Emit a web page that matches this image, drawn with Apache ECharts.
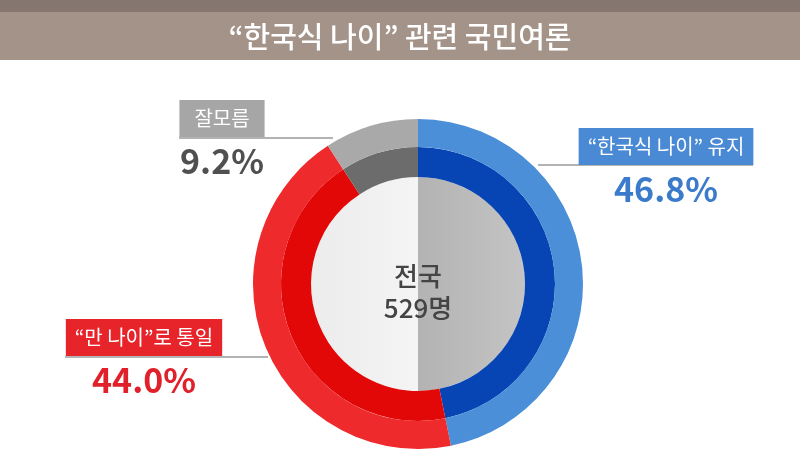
<!DOCTYPE html>
<html><head><meta charset="utf-8">
<script src="https://cdn.jsdelivr.net/npm/echarts@6/dist/echarts.min.js"></script>
<style>html,body{margin:0;padding:0;background:#fff}#c{width:800px;height:450px}</style>
</head><body><div id="c"></div>
<script>
const titleText = '“한국식 나이” 관련 국민여론';
const categories = ['“한국식 나이” 유지', '“만 나이”로 통일', '잘모름'];
const values = [46.8, 44.0, 9.2];
const centerLines = ['전국', '529명'];
const outerColors = ['#4a8fd8', '#ee2a2c', '#a9a9a9'];
const innerColors = ['#0745b4', '#e20808', '#6c6c6c'];
const valueColors = ['#3b7bcb', '#e0202a', '#505050'];
const boxColors = ['#4a8ad5', '#e8242b', '#a6a6a6'];

const FONT = '"Noto Sans CJK KR", "Noto Sans", sans-serif';
const CX = 418, CY = 284;
const labelPos = [
  { x: 666, y: 128, pad: 9, line: [[538, 165], [580, 165], [753, 165]] },
  { x: 144, y: 319, pad: 9, line: [[268, 357], [222, 357], [65, 357]] },
  { x: 222, y: 100, pad: 15, line: [[333, 138], [265, 138], [179, 138]] }
];

const chart = echarts.init(document.getElementById('c'));
const rich = {};
categories.forEach((c, i) => {
  rich['b' + i] = { backgroundColor: boxColors[i], color: '#fff', fontSize: 20, lineHeight: 37, height: 37, padding: [0, labelPos[i].pad], fontFamily: FONT };
  rich['v' + i] = { color: valueColors[i], fontSize: 34, lineHeight: 48, fontFamily: FONT, fontWeight: 'bold' };
});

chart.setOption({
  animation: false,
  title: {
    text: titleText, left: 'center', top: 17,
    textStyle: { color: '#ffffff', fontSize: 29, fontWeight: 500, fontFamily: FONT }
  },
  graphic: [
    { type: 'rect', z: -1, shape: { x: 0, y: 0, width: 800, height: 12 }, style: { fill: '#857670' } },
    { type: 'rect', z: -1, shape: { x: 0, y: 12, width: 800, height: 48 }, style: { fill: '#a39389' } },
    { type: 'text', z: 100, x: CX, y: 292, style: { text: centerLines.join('\n'), fill: '#444444', font: '500 26px ' + FONT, align: 'center', verticalAlign: 'middle', lineHeight: 32 } }
  ],
  series: [
    {
      type: 'pie', radius: [0, 107], center: [CX, CY], silent: true, label: { show: false },
      data: [{ value: 1, itemStyle: { color: { type: 'linear', x: 0, y: 0, x2: 1, y2: 0, colorStops: [
        { offset: 0, color: '#ececec' }, { offset: 0.499, color: '#f4f4f4' },
        { offset: 0.5, color: '#b3b3b3' }, { offset: 1, color: '#c4c4c4' }] } } }]
    },
    {
      type: 'pie', radius: [107, 137], center: [CX, CY], startAngle: 90, clockwise: true, silent: true,
      label: { show: false }, labelLine: { show: false },
      data: categories.map((c, i) => ({ name: c, value: values[i], itemStyle: { color: innerColors[i] } }))
    },
    {
      type: 'pie', radius: [137, 165], center: [CX, CY], startAngle: 90, clockwise: true, silent: true,
      data: categories.map((c, i) => ({ name: c, value: values[i], itemStyle: { color: outerColors[i] } })),
      label: {
        show: true,
        formatter: p => '{b' + p.dataIndex + '|' + p.name + '}\n{v' + p.dataIndex + '|' + p.value.toFixed(1) + '%}',
        rich: rich, align: 'center'
      },
      labelLine: { show: true, lineStyle: { color: '#9a9a9a', width: 1.5 } },
      labelLayout: function (params) {
        const p = labelPos[params.dataIndex];
        return { x: p.x, y: p.y, align: 'center', verticalAlign: 'top', labelLinePoints: p.line };
      }
    }
  ]
});
</script></body></html>
